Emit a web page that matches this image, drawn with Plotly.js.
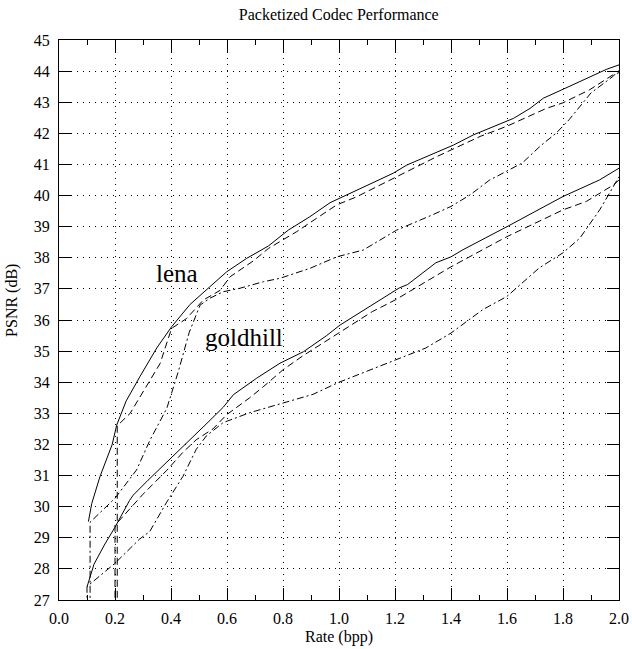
<!DOCTYPE html>
<html>
<head>
<meta charset="utf-8">
<script src="https://cdn.plot.ly/plotly-3.0.1.min.js"></script>
<style>html,body{margin:0;padding:0;background:#fff;}#chart{width:632px;height:649px;}</style>
</head>
<body>
<div id="chart"></div>
<script>
// Lena
var lenaSolidX = [0.105, 0.117, 0.146, 0.19, 0.206, 0.24, 0.289, 0.325, 0.349, 0.402, 0.468, 0.539, 0.599, 0.670, 0.748, 0.819, 0.896, 0.968, 1.039, 1.111, 1.194, 1.242, 1.325, 1.408, 1.480, 1.539, 1.623, 1.682, 1.730, 1.801, 1.885, 1.956, 2.0];
var lenaSolidY = [29.52, 30.1, 30.96, 32.0, 32.62, 33.4, 34.18, 34.71, 35.1, 35.78, 36.5, 37.07, 37.55, 37.98, 38.38, 38.89, 39.32, 39.77, 40.07, 40.39, 40.72, 40.98, 41.30, 41.62, 41.95, 42.16, 42.48, 42.80, 43.13, 43.42, 43.77, 44.06, 44.2];

var lenaDashX = [0.208, 0.208, 0.254, 0.313, 0.361, 0.402, 0.456, 0.515, 0.575, 0.611, 0.694, 0.748, 0.777, 0.849, 0.920, 0.992, 1.063, 1.206, 1.349, 1.504, 1.6, 1.74, 1.8, 1.895, 1.98, 2.0];
var lenaDashY = [20, 32.6, 33.0, 33.86, 34.6, 35.73, 36.05, 36.64, 36.95, 37.39, 37.9, 38.3, 38.46, 38.84, 39.27, 39.70, 39.96, 40.61, 41.25, 41.9, 42.23, 42.8, 42.98, 43.4, 43.89, 43.95];

var lenaDotX = [0.111, 0.111, 0.2, 0.277, 0.325, 0.385, 0.426, 0.465, 0.504, 0.539, 0.587, 0.646, 0.730, 0.789, 0.896, 0.992, 1.087, 1.206, 1.334, 1.4, 1.468, 1.538, 1.56, 1.655, 1.72, 1.775, 1.823, 1.86, 1.9, 1.98, 2.0];
var lenaDotY = [20, 29.5, 30.27, 31.18, 32.14, 33.16, 34.34, 35.6, 36.48, 36.70, 36.91, 37.02, 37.23, 37.34, 37.66, 38.03, 38.25, 38.89, 39.38, 39.65, 40.02, 40.5, 40.6, 41.05, 41.6, 42.0, 42.45, 42.87, 43.3, 43.84, 44.04];

// Goldhill
var goldSolidX = [0.1, 0.125, 0.164, 0.2, 0.252, 0.265, 0.318, 0.4, 0.463, 0.525, 0.587, 0.623, 0.706, 0.789, 0.873, 0.956, 1.004, 1.086, 1.146, 1.215, 1.245, 1.346, 1.4, 1.443, 1.6, 1.8, 1.93, 2.0];
var goldSolidY = [27.42, 28.15, 28.8, 29.34, 30.2, 30.37, 30.85, 31.55, 32.1, 32.65, 33.2, 33.6, 34.13, 34.61, 34.98, 35.5, 35.84, 36.3, 36.64, 37.03, 37.14, 37.84, 38.03, 38.26, 39.0, 39.97, 40.5, 40.88];

var goldDashX = [0.2, 0.2, 0.25, 0.3, 0.383, 0.443, 0.49, 0.55, 0.598, 0.681, 0.729, 0.8, 0.871, 1.0, 1.119, 1.2, 1.4, 1.6, 1.8, 1.883, 1.98, 2.0];
var goldDashY = [20, 29.4, 29.9, 30.4, 31.15, 31.75, 32.15, 32.5, 32.95, 33.5, 33.85, 34.4, 34.85, 35.6, 36.27, 36.64, 37.71, 38.68, 39.54, 39.81, 40.34, 40.5];

var goldDotX = [0.1, 0.1, 0.2, 0.288, 0.324, 0.383, 0.443, 0.49, 0.526, 0.586, 0.681, 0.8, 0.907, 1.0, 1.2, 1.31, 1.4, 1.513, 1.6, 1.716, 1.8, 1.86, 1.931, 1.98, 2.0];
var goldDotY = [20, 27.43, 28.18, 28.96, 29.2, 30.12, 30.98, 31.84, 32.27, 32.7, 33.02, 33.34, 33.61, 34.0, 34.7, 35.1, 35.58, 36.33, 36.76, 37.68, 38.16, 38.63, 39.54, 40.29, 40.6];

var labels = ['lena', 'goldhill'];
var labelX = [0.423, 0.661];
var labelY = [37.5, 35.45];

var titleText = 'Packetized Codec Performance';
var xTitle = 'Rate (bpp)';
var yTitle = 'PSNR (dB)';

var FONT = '"Liberation Serif", "Times New Roman", Times, serif';
function tr(x, y, dash) {
  return {x: x, y: y, type: 'scatter', mode: 'lines', hoverinfo: 'skip',
          line: {color: '#000', width: 1, dash: dash}, showlegend: false};
}
var dashA = '7px,4px';
var dashB = '7px,3px,2px,3px';
var data = [
  tr(lenaSolidX, lenaSolidY, 'solid'),
  tr(lenaDashX, lenaDashY, dashA),
  tr(lenaDotX, lenaDotY, dashB),
  tr(goldSolidX, goldSolidY, 'solid'),
  tr(goldDashX, goldDashY, dashA),
  tr(goldDotX, goldDotY, dashB)
];

var axisCommon = {
  showline: true, linecolor: '#000', linewidth: 1, mirror: 'ticks',
  ticks: 'inside', tickcolor: '#000', tickwidth: 1, ticklen: 12,
  showgrid: true, gridcolor: '#000', gridwidth: 1, griddash: '1px,5px',
  zeroline: false, tickfont: {family: FONT, size: 16, color: '#000'}
};

var annots = labels.map(function (t, i) {
  return {x: labelX[i], y: labelY[i], xref: 'x', yref: 'y', text: t, showarrow: false,
          font: {family: FONT, size: 25, color: '#000'}, xanchor: 'center', yanchor: 'middle'};
});
annots.push({x: -0.083, y: 0.535, xref: 'paper', yref: 'paper', text: yTitle, showarrow: false,
             textangle: -90, font: {family: FONT, size: 16, color: '#000'}, xanchor: 'center', yanchor: 'middle'});

var layout = {
  width: 632, height: 649,
  margin: {l: 59, r: 13, t: 40, b: 49},
  paper_bgcolor: '#fff', plot_bgcolor: '#fff',
  font: {family: FONT, size: 16, color: '#000'},
  title: {text: titleText, font: {family: FONT, size: 16, color: '#000'}, x: 0.536, xanchor: 'center', y: 0.987, yanchor: 'top'},
  xaxis: Object.assign({}, axisCommon, {
    range: [0, 2], dtick: 0.2, tick0: 0, tickformat: '.1f',
    minor: {dtick: 0.1, ticks: 'inside', ticklen: 5, tickcolor: '#000', showgrid: false},
    title: {text: xTitle, font: {family: FONT, size: 16, color: '#000'}, standoff: 4},
    ticklabelstandoff: 4
  }),
  yaxis: Object.assign({}, axisCommon, {
    range: [27, 45], dtick: 1, tick0: 27,
    ticklabelstandoff: 5
  }),
  annotations: annots
};

Plotly.newPlot('chart', data, layout, {displayModeBar: false, staticPlot: true});
</script>
</body>
</html>
